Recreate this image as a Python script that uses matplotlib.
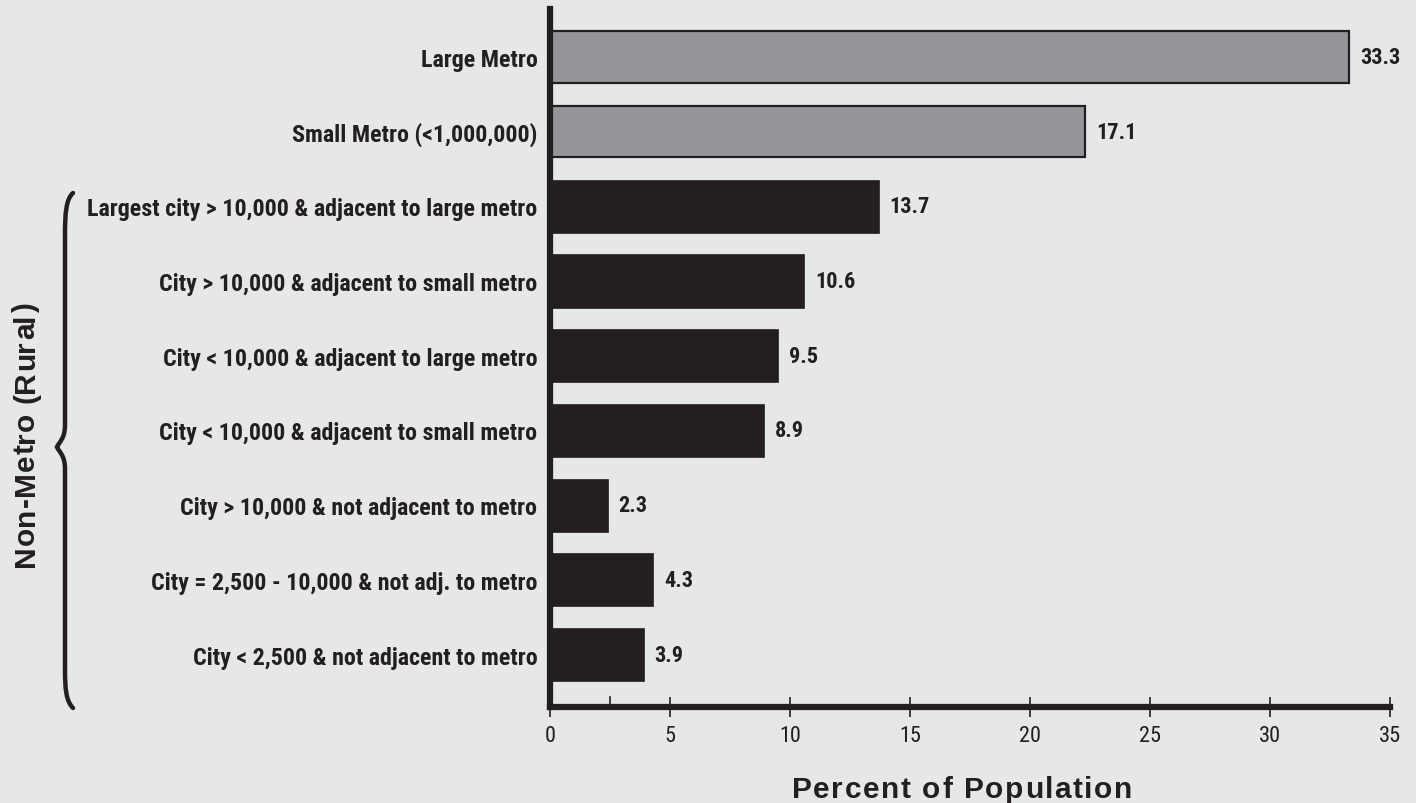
import os
import matplotlib
matplotlib.use("Agg")
import matplotlib.pyplot as plt
from matplotlib import font_manager
from matplotlib.font_manager import FontProperties, get_font, findfont
from matplotlib.path import Path
from matplotlib.patches import PathPatch

categories = [
    "Large Metro",
    "Small Metro (<1,000,000)",
    "Largest city > 10,000 & adjacent to large metro",
    "City > 10,000 & adjacent to small metro",
    "City < 10,000 & adjacent to large metro",
    "City < 10,000 & adjacent to small metro",
    "City > 10,000 & not adjacent to metro",
    "City = 2,500 - 10,000 & not adj. to metro",
    "City < 2,500 & not adjacent to metro",
]
bar_values = [33.3, 22.3, 13.7, 10.6, 9.5, 8.9, 2.4, 4.3, 3.9]
value_labels = ["33.3", "17.1", "13.7", "10.6", "9.5", "8.9", "2.3", "4.3", "3.9"]
is_metro = [True, True, False, False, False, False, False, False, False]
xticks = [0, 5, 10, 15, 20, 25, 30, 35]
x_title = "Percent of Population"
group_title = "Non-Metro (Rural)"

files = {os.path.basename(f.fname).lower(): f.fname for f in font_manager.fontManager.ttflist}

def pick(cands, size, weight="normal"):
    for c in cands:
        if c.lower() in files:
            return FontProperties(fname=files[c.lower()], size=size)
    return FontProperties(family="DejaVu Sans", size=size, weight=weight, stretch="condensed")

def cond_bold(size):
    return pick(["RobotoCondensed-Bold.ttf", "DejaVuSansCondensed-Bold.ttf"], size, "bold")

def cond_reg(size):
    return pick(["RobotoCondensed-Regular.ttf", "DejaVuSansCondensed.ttf"], size)

def wide_bold(size):
    return pick(["LiberationSans-Bold.ttf", "DejaVuSans-Bold.ttf"], size, "bold")

BG = "#e6e7e8"
DARK = "#231f20"
GRAY = "#939598"
W, H = 1416.0, 804.0
DPI = 100

fig = plt.figure(figsize=(W / DPI, H / DPI), dpi=DPI, facecolor=BG)
ax = fig.add_axes([550 / W, 1 - 708 / H, 840 / W, 698 / H])
ax.set_facecolor(BG)

ys = list(range(len(categories)))
for y, v, m in zip(ys, bar_values, is_metro):
    if m:
        ax.barh(y, v, height=0.69, color=GRAY, edgecolor=DARK, linewidth=1.6, zorder=2)
    else:
        ax.barh(y, v, height=0.71, color=DARK, edgecolor=DARK, linewidth=0.5, zorder=2)

for y, v, lab in zip(ys, bar_values, value_labels):
    ax.text(v + 0.45, y, lab, va="center", ha="left", fontproperties=cond_bold(16), color=DARK)

ax.set_xlim(0, 35)
ax.set_ylim(8.70, -0.64)
ax.set_yticks(ys)
ax.set_yticklabels(categories, color=DARK)
for t in ax.get_yticklabels():
    t.set_fontproperties(cond_bold(17.3))
ax.tick_params(axis="y", length=0, pad=9)
ax.set_xticks(xticks)
ax.set_xticklabels([str(t) for t in xticks], color=DARK)
for t in ax.get_xticklabels():
    t.set_fontproperties(cond_reg(16))
ax.tick_params(axis="x", direction="inout", length=14, width=1.2, color=DARK, pad=6)

for s in ["top", "right"]:
    ax.spines[s].set_visible(False)
for s in ["left", "bottom"]:
    ax.spines[s].set_linewidth(4.5)
    ax.spines[s].set_color(DARK)
    ax.spines[s].set_zorder(3)

# small extra tick at 2.5
ax.plot([2.5, 2.5], [8.70, 8.57], color=DARK, lw=1.2, clip_on=False, zorder=4)


def advances(s, prop):
    font = get_font(findfont(prop))
    font.set_size(prop.get_size_in_points(), DPI)
    return [font.load_char(ord(c)).linearHoriAdvance / 65536.0 for c in s]


def tracked_text(s, prop, center_px, baseline_px, tracking_px, vertical=False):
    adv = advances(s, prop)
    total = sum(adv) + tracking_px * (len(s) - 1)
    pos = -total / 2.0
    for c, a in zip(s, adv):
        if c != " ":
            if vertical:
                fig.text(baseline_px / W, 1 - (center_px - pos) / H, c, rotation=90,
                         rotation_mode="anchor", ha="left", va="baseline",
                         fontproperties=prop, color=DARK)
            else:
                fig.text((center_px + pos) / W, 1 - baseline_px / H, c,
                         ha="left", va="baseline", fontproperties=prop, color=DARK)
        pos += a + tracking_px


tracked_text(x_title, wide_bold(21.5), 962, 798, 1.6)
tracked_text(group_title, wide_bold(21.5), 435, 34, 0.6, vertical=True)

# brace in figure pixel coordinates
def P(x, y):
    return (x / W, 1 - y / H)

verts = [P(73, 194),
         P(66, 200), P(65, 215), P(65, 235),
         P(65, 330), P(65, 420), P(65, 426),
         P(65, 440), P(59, 443), P(57, 448),
         P(59, 453), P(65, 456), P(65, 470),
         P(65, 476), P(65, 580), P(65, 670),
         P(65, 690), P(66, 702), P(73, 709)]
codes = [Path.MOVETO] + [Path.CURVE4] * 18
brace = PathPatch(Path(verts, codes), facecolor="none", edgecolor=DARK, lw=3.2,
                  transform=fig.transFigure, capstyle="round")
fig.patches.append(brace)

fig.savefig("out.png", dpi=DPI, facecolor=BG)
